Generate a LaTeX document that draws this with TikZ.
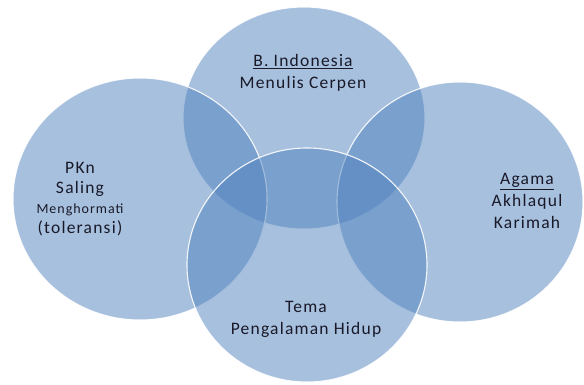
\documentclass[tikz,border=0pt]{standalone}
\usepackage{fontspec}
\usetikzlibrary{shapes.geometric}
\setmainfont{Carlito}[LetterSpace=7]
\definecolor{vennblue}{RGB}{79,129,189}
\definecolor{txt}{RGB}{25,25,40}
\begin{document}
\begin{tikzpicture}[x=1pt,y=-1pt,
  venn/.style={ellipse,inner sep=0pt,fill=vennblue,fill opacity=0.5,draw=white,draw opacity=0.9,line width=1.1pt},
  lbl/.style={align=center,text=txt,font=\fontsize{17.5}{22}\selectfont,inner sep=0pt}]
\useasboundingbox (0,0) rectangle (584,385);
\node[venn,minimum width=242pt,minimum height=222pt] (top) at (304,118) {};
\node[venn,minimum width=254pt,minimum height=242pt] (left) at (140,199) {};
\node[venn,minimum width=246pt,minimum height=240pt] (right) at (460,202) {};
\node[venn,minimum width=240pt,minimum height=234pt] (bottom) at (307,265) {};
\node[lbl] (tlbl) at (303,73) {\underline{B. Indonesia}\\Menulis Cerpen};
\node[lbl,font=\fontsize{17.5}{20}\selectfont] (llbl) at (80,199) {PKn\\Saling\\{\fontsize{14}{20}\selectfont Menghormati}\\(toleransi)};
\node[lbl] (rlbl) at (527,201) {\underline{Agama}\\Akhlaqul\\Karimah};
\node[lbl] (blbl) at (306,319) {Tema\\Pengalaman Hidup};
\end{tikzpicture}
\end{document}
